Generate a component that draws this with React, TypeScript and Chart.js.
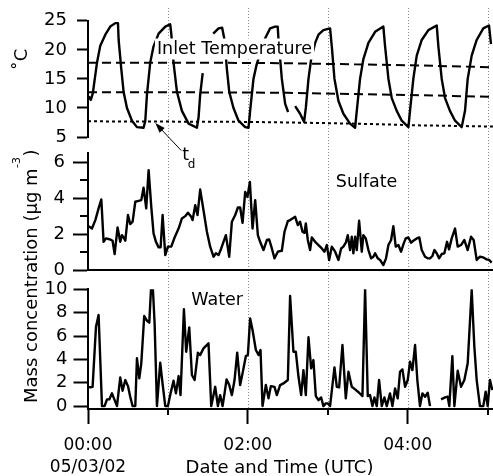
import React, { useEffect, useRef } from 'react';
import { Chart, registerables } from 'chart.js';

Chart.register(...registerables);

const FONT = "'DejaVu Sans', 'Liberation Sans', sans-serif";
const W = 493;
const H = 476;

// ---------- data (time in minutes after 00:00 UTC, 05/03/02) ----------
const tempTime = [0.6, 2.1, 3.6, 6.75, 9.2, 13.0, 16.7, 20.5, 22.5, 23.0, 25.0, 26.7, 29.25, 33.0, 36.75, 41.7, 43.0, 44.25, 46.7, 49.2, 53.0, 58.0, 61.7, 62.5, 64.2, 66.75, 70.5, 75.5, 81.75, 83.0, 84.2, 86.1, 88, 94.0, 98.0, 100.7, 102.5, 104.25, 106.0, 109.2, 113.0, 118.0, 120.5, 121.7, 124.2, 126.6, 133.0, 136.7, 140.5, 142.4, 143.0, 145.5, 148.0, 150.2, 152, 155.5, 159.2, 162.2, 163.5, 165.5, 167.5, 170.5, 173.0, 176.7, 181.7, 183.0, 185.0, 188.0, 191.7, 196.7, 200.5, 201.75, 204.2, 206.7, 210.5, 215.5, 221.7, 223.0, 225.5, 228.0, 231.75, 235.5, 240.5, 241.7, 244.2, 246.75, 250.5, 255.5, 261.75, 263.0, 265.5, 268.0, 271.7, 275.5, 280.5, 283.0, 285.0, 288.0, 291.75, 296.7, 301.0, 302.5];
const tempValue = [12.0, 11.4, 12.5, 17.8, 20.7, 22.6, 24.0, 24.6, 24.6, 21.7, 16.7, 12.8, 10.0, 7.8, 6.7, 6.6, 7.8, 12.3, 17.8, 20.6, 22.8, 24.0, 24.4, 22.8, 17.8, 12.8, 9.5, 7.3, 6.6, 8.4, 12.3, 16.0, null, 22.8, 23.7, 23.8, 21.7, 16.7, 12.8, 10.0, 7.8, 6.7, 6.6, 9.5, 15.0, 17.5, 22.0, 23.7, 24.0, 24.0, 21.7, 15.0, 10.7, 9.3, null, 10.3, 9.0, 7.6, 10.0, 15.0, 18.4, 21.2, 22.6, 23.4, 23.7, 20.6, 15.0, 11.2, 9.0, 7.3, 6.6, 9.5, 15.0, 18.4, 21.2, 23.1, 24.0, 20.6, 15.0, 11.7, 9.5, 7.8, 6.7, 9.5, 15.0, 19.0, 21.7, 23.4, 24.2, 20.6, 15.0, 11.7, 9.5, 7.8, 6.7, 9.5, 15.0, 19.0, 21.7, 23.7, 24.2, 21.0];

const refTime = [0, 60, 120, 150, 200, 250, 304];
const upperDashValue = [17.8, 17.8, 17.75, 17.7, 17.5, 17.3, 17.0];
const middleDashValue = [12.7, 12.7, 12.65, 12.6, 12.4, 12.2, 11.9];
const dewDotValue = [7.7, 7.65, 7.6, 7.5, 7.3, 7.0, 6.8];

const sulfTime = [0.45, 3.0, 5.5, 7.95, 10.0, 11.7, 13.5, 16.7, 18.45, 20.0, 22.2, 24.2, 25.5, 26.7, 28.0, 30.0, 31.7, 33.5, 35.5, 38.0, 40.0, 41.7, 43.7, 45.5, 47.5, 49.2, 51.0, 53.0, 54.5, 56.0, 58.0, 60.0, 62.5, 65.0, 68.0, 70.5, 73.0, 75.0, 77.5, 78.5, 80.5, 82.2, 84.2, 86.7, 89.25, 91.7, 94.2, 96.0, 98.0, 100.0, 101.7, 103.5, 106.0, 108.0, 110.5, 112.5, 114.2, 116.0, 118.0, 119.7, 121.5, 123.5, 125.5, 127.5, 129.2, 131.7, 134.25, 136.0, 138.0, 140.0, 142.5, 145.5, 147.5, 150.0, 151.7, 153.5, 155.5, 157.5, 159.2, 161.0, 162.5, 163.5, 165.0, 166.7, 168.0, 170.5, 173.0, 175.5, 177.5, 179.25, 181.0, 183.0, 185.5, 188.0, 190.0, 191.7, 193.5, 195.0, 196.7, 198.0, 199.2, 200.5, 201.75, 203.5, 205.5, 206.7, 208.5, 210.5, 212.5, 214.2, 215.5, 217.5, 219.2, 221.7, 223.7, 225.5, 227.5, 229.2, 231.0, 233.0, 235.0, 237.0, 238.5, 240.5, 242.5, 244.2, 246.75, 248.7, 250.5, 253.0, 255.0, 256.7, 258.5, 260.0, 261.75, 263.5, 265.5, 267.5, 269.5, 271.0, 273.0, 275.5, 277.5, 280.0, 282.5, 285.0, 287.5, 289.5, 291.75, 294.2, 296.7, 299.25, 301.0, 303.0];
const sulfValue = [2.44, 2.31, 2.78, 3.43, 3.93, 1.57, 1.76, 1.7, 1.63, 0.89, 2.37, 1.57, 1.94, 1.81, 1.63, 3.06, 2.56, 2.69, 3.8, 3.85, 3.89, 4.59, 3.43, 5.56, 3.52, 2.04, 1.57, 1.26, 1.26, 3.06, 0.83, 1.3, 1.3, 1.81, 2.31, 2.87, 3.0, 3.19, 2.96, 2.78, 3.61, 3.06, 4.48, 3.33, 2.13, 1.3, 0.74, 0.93, 0.83, 1.2, 1.57, 1.94, 0.74, 2.69, 3.06, 3.48, 3.48, 2.63, 4.35, 4.07, 4.91, 2.31, 3.89, 1.94, 1.57, 1.11, 1.67, 1.7, 1.2, 0.65, 1.02, 1.07, 2.13, 2.72, 2.78, 2.87, 2.96, 2.5, 2.69, 2.13, 2.07, 2.59, 1.67, 1.11, 1.81, 1.57, 1.39, 1.2, 1.02, 1.39, 0.56, 1.3, 1.02, 0.56, 1.2, 1.3, 1.52, 1.94, 1.11, 1.85, 0.93, 1.85, 1.11, 2.74, 1.02, 1.94, 1.76, 1.11, 0.65, 0.74, 0.93, 0.65, 0.56, 0.28, 0.65, 1.39, 1.67, 2.44, 1.3, 1.39, 1.02, 1.48, 1.76, 1.81, 1.52, 1.63, 1.76, 1.81, 1.11, 0.74, 0.65, 0.65, 0.78, 1.11, 0.93, 0.65, 0.89, 0.93, 1.57, 1.15, 1.76, 2.31, 1.3, 1.39, 1.67, 1.11, 1.85, 1.67, 0.56, 0.74, 0.7, 0.59, 0.56, 0.41];

const waterTime = [0.45, 1.7, 3.45, 6.0, 7.95, 10.5, 12.45, 14.25, 16.0, 18.0, 20.0, 21.75, 24.2, 25.95, 28.0, 30.0, 31.7, 33.45, 35.5, 36.75, 38.5, 40.0, 42.2, 44.25, 46.0, 47.25, 48.75, 50.0, 51.75, 54.2, 55.95, 58.0, 60.0, 61.7, 64.2, 66.0, 68.0, 69.45, 72.0, 73.7, 76.0, 78.0, 80.0, 82.5, 84.2, 86.7, 90.45, 92.5, 95.5, 97.5, 99.2, 101.0, 102.5, 104.0, 106.0, 108.0, 110.0, 112.0, 114.2, 116.0, 118.5, 120.0, 121.7, 123.5, 126.0, 128.0, 129.5, 131.0, 133.5, 135.5, 137.25, 140.0, 141.75, 144.2, 146.7, 150.0, 151.7, 154.2, 156.0, 158.0, 160.0, 161.7, 163.5, 165.5, 167.5, 169.2, 171.0, 173.0, 175.0, 176.7, 178.5, 180.0, 181.7, 185.0, 186.75, 188.5, 191.0, 193.5, 195.5, 198.0, 200.5, 203.5, 206.0, 208.0, 210.0, 211.7, 213.5, 215.0, 216.75, 218.5, 220.5, 222.5, 224.25, 226.7, 228.5, 230.5, 232.5, 234.2, 236.0, 238.0, 240.0, 241.7, 243.5, 245.5, 247.2, 249.2, 251.0, 253.0, 255.0, 256.7, 260, 265.0, 268.0, 270.0, 271.2, 273.5, 275.0, 277.5, 280.0, 282.5, 285.0, 288.0, 290.0, 291.75, 294.2, 296.7, 298.5, 300.0, 301.7, 303.5];
const waterValue = [1.65, 1.6, 1.65, 6.8, 7.8, 0, 0, 0.57, 0.57, 1.09, 0.51, 0, 2.46, 1.31, 2.23, 1.71, 0.8, 0, 0, 4.09, 2.37, 3.66, 7.71, 7.31, 7.14, 9.94, 9.94, 7.09, 0, 3.71, 1.94, 0, 0, 0.94, 2.17, 1.09, 2.57, 0.94, 8.29, 4.65, 6.74, 2.66, 2.23, 4.57, 4.37, 4.94, 5.37, 0, 1.65, 0, 0.94, 0, 1.09, 2.29, 1.8, 0.94, 2.23, 4.57, 1.8, 2.8, 4.28, 4.37, 7.51, 6.51, 4.8, 4.37, 4.8, 0, 1.8, 0.66, 1.71, 1.65, 0.94, 1.8, 1.94, 2.23, 9.43, 4.65, 4.65, 2.51, 0.94, 3.08, 0.94, 5.89, 3.23, 3.94, 0.86, 0.51, 0.74, 0, 0.23, 0.23, 0, 3.31, 1.65, 1.6, 5.23, 0.66, 2.94, 1.65, 1.43, 1.14, 0.86, 10, 0.86, 0.94, 0, 0.74, 0, 2.23, 0, 0.74, 0, 1.09, 0, 1.51, 0.66, 2.94, 3.14, 1.65, 2.23, 3.8, 3.08, 5.23, 2.23, 0, 1.09, 0.8, 1.14, 0, null, 0.57, 0.74, 0.8, 0, 4.28, 0, 3.02, 1.65, 2.23, 3.66, 9.94, 5.08, 2.23, 0, 0, 1.23, 0, 2.23, 1.37];

// ---------- axes ----------
const X_MIN = 0;
const X_MAX = 304;
const xMajorTicks = [0, 120, 240];
const xMajorLabels: (string | string[])[] = [['00:00', '05/03/02'], '02:00', '04:00'];
const xMinorTicks = [60, 180, 300];
const gridTimes = [60, 120, 180, 240, 300];
const tempTicks = [5, 10, 15, 20, 25];
const sulfTicks = [0, 2, 4, 6];
const sulfMinorTicks = [1, 3, 5];
const waterTicks = [0, 2, 4, 6, 8, 10];

// ---------- layout (pixels) ----------
const PLOT_LEFT = 88;
const T_TOP = 17, T_BOTTOM = 137;
const S_TOP = 153.3, S_BOTTOM = 270;
const W_TOP = 289.3, W_BOTTOM = 409;
const LINE_W = 2.4;

// annotation anchors (data coordinates)
const INLET_LABEL = { t: 51.75, v: 19.2 };
const TD_TIP = { t: 50.5, v: 7.4 };
const SULF_LABEL = { t: 186, v: 4.63 };
const WATER_LABEL = { t: 77.5, v: 8.65 };

const pts = (xs: number[], ys: (number | null)[]) => xs.map((x, i) => ({ x, y: ys[i] }));

const lineDs = (data: any, dash: number[] = [], width = LINE_W) => ({
  data,
  borderColor: '#000',
  borderWidth: width,
  borderDash: dash,
  borderJoinStyle: 'round' as const,
  pointRadius: 0,
  tension: 0,
  fill: false,
  spanGaps: false,
});

function yScale(min: number, max: number, ticks: number[], tickLen: number, pad: number) {
  return {
    type: 'linear' as const,
    position: 'left' as const,
    min,
    max,
    afterFit: (s: any) => { s.width = PLOT_LEFT; },
    afterBuildTicks: (s: any) => { s.ticks = ticks.map((v) => ({ value: v })); },
    grid: { drawOnChartArea: false, drawTicks: true, tickLength: tickLen, tickColor: '#000', tickWidth: 2 },
    border: { display: true, color: '#000', width: 2 },
    ticks: { color: '#000', font: { family: FONT, size: 18 }, padding: pad, autoSkip: false },
  };
}

const baseOptions = (padTop: number, padBottom: number) => ({
  responsive: false,
  animation: false as const,
  events: [] as any[],
  layout: { padding: { top: padTop, bottom: padBottom, left: 0, right: 0 } },
  plugins: { legend: { display: false }, tooltip: { enabled: false } },
});

function text(ctx: CanvasRenderingContext2D, s: string, x: number, y: number, size: number, align: CanvasTextAlign = 'left') {
  ctx.font = `${size}px ${FONT}`;
  ctx.textAlign = align;
  ctx.textBaseline = 'alphabetic';
  ctx.fillStyle = '#000';
  ctx.fillText(s, x, y);
}

const tempPlugin = {
  id: 'tempAnno',
  afterDatasetsDraw(chart: any) {
    const { ctx, scales: { x, y } } = chart;
    ctx.save();
    // Inlet Temperature label with opaque background
    const lx = x.getPixelForValue(INLET_LABEL.t);
    const ly = y.getPixelForValue(INLET_LABEL.v);
    ctx.font = `17.5px ${FONT}`;
    const w = ctx.measureText('Inlet Temperature').width;
    ctx.fillStyle = '#fff';
    ctx.fillRect(lx - 2, ly - 16, w + 4, 21);
    text(ctx, 'Inlet Temperature', lx, ly, 17.5);
    // t_d arrow
    const tx = x.getPixelForValue(TD_TIP.t);
    const ty = y.getPixelForValue(TD_TIP.v);
    const sx = tx + 26, sy = ty + 27.5;
    const ang = Math.atan2(ty - sy, tx - sx);
    ctx.strokeStyle = '#000';
    ctx.lineWidth = 1;
    ctx.beginPath();
    ctx.moveTo(sx, sy);
    ctx.lineTo(tx - Math.cos(ang) * 6, ty - Math.sin(ang) * 6);
    ctx.stroke();
    ctx.fillStyle = '#000';
    ctx.beginPath();
    ctx.moveTo(tx, ty);
    ctx.lineTo(tx - Math.cos(ang) * 10 + Math.sin(ang) * 3.5, ty - Math.sin(ang) * 10 - Math.cos(ang) * 3.5);
    ctx.lineTo(tx - Math.cos(ang) * 10 - Math.sin(ang) * 3.5, ty - Math.sin(ang) * 10 + Math.cos(ang) * 3.5);
    ctx.closePath();
    ctx.fill();
    text(ctx, 't', tx + 27, ty + 37, 17.5);
    text(ctx, 'd', tx + 32.5, ty + 45, 12);
    // axis title
    ctx.translate(27, (T_TOP + T_BOTTOM) / 2 - 17.5);
    ctx.rotate(-Math.PI / 2);
    text(ctx, '˚C', 0, 0, 18, 'center');
    ctx.restore();
  },
};

const sulfPlugin = {
  id: 'sulfAnno',
  afterDraw(chart: any) {
    const { ctx, scales: { x, y } } = chart;
    ctx.save();
    ctx.strokeStyle = '#000';
    ctx.lineWidth = 2;
    sulfMinorTicks.forEach((v) => {
      const py = Math.round(y.getPixelForValue(v));
      ctx.beginPath();
      ctx.moveTo(PLOT_LEFT - 8, py);
      ctx.lineTo(PLOT_LEFT, py);
      ctx.stroke();
    });
    text(ctx, 'Sulfate', x.getPixelForValue(SULF_LABEL.t), y.getPixelForValue(SULF_LABEL.v), 17.5);
    ctx.restore();
  },
};

const waterPlugin = {
  id: 'waterAnno',
  beforeDatasetsDraw(chart: any) {
    const { ctx, scales: { x }, chartArea } = chart;
    ctx.save();
    ctx.strokeStyle = '#8a8a8a';
    ctx.lineWidth = 1;
    ctx.setLineDash([1, 2]);
    gridTimes.forEach((t) => {
      const px = Math.round(x.getPixelForValue(t)) + 0.5;
      ctx.beginPath();
      ctx.moveTo(px, 8);
      ctx.lineTo(px, chartArea.bottom);
      ctx.stroke();
    });
    ctx.restore();
  },
  afterDraw(chart: any) {
    const { ctx, scales: { x, y }, chartArea } = chart;
    ctx.save();
    ctx.strokeStyle = '#000';
    ctx.lineWidth = 2;
    xMinorTicks.forEach((t) => {
      const px = Math.round(x.getPixelForValue(t));
      ctx.beginPath();
      ctx.moveTo(px, chartArea.bottom);
      ctx.lineTo(px, chartArea.bottom + 6);
      ctx.stroke();
    });
    text(ctx, 'Water', x.getPixelForValue(WATER_LABEL.t), y.getPixelForValue(WATER_LABEL.v), 17.5);
    text(ctx, 'Date and Time (UTC)', (chartArea.left + chartArea.right) / 2 - 11, 472.5, 18, 'center');
    // rotated mass-concentration title
    ctx.translate(36.5, 403);
    ctx.rotate(-Math.PI / 2);
    const main = 'Mass concentration (µg m';
    ctx.font = `18px ${FONT}`;
    const mw = ctx.measureText(main).width;
    text(ctx, main, 0, 0, 18);
    ctx.font = `11px ${FONT}`;
    const sw = ctx.measureText('-3').width;
    text(ctx, '-3', mw + 0.5, -17, 11);
    text(ctx, ')', mw + sw + 1, 0, 18);
    ctx.restore();
  },
};

export default function App() {
  const tRef = useRef<HTMLCanvasElement>(null);
  const sRef = useRef<HTMLCanvasElement>(null);
  const wRef = useRef<HTMLCanvasElement>(null);

  useEffect(() => {
    Chart.defaults.font.family = FONT;
    const charts: Chart[] = [];

    charts.push(new Chart(wRef.current as HTMLCanvasElement, {
      type: 'line',
      data: { datasets: [lineDs(pts(waterTime, waterValue)) as any] },
      options: {
        ...baseOptions(W_TOP, 0),
        scales: {
          x: {
            type: 'linear', min: X_MIN, max: X_MAX,
            afterFit: (s: any) => { s.height = H - W_BOTTOM; },
            afterBuildTicks: (s: any) => { s.ticks = xMajorTicks.map((v) => ({ value: v })); },
            grid: { drawOnChartArea: false, drawTicks: true, tickLength: 15, tickColor: '#000', tickWidth: 2 },
            border: { display: true, color: '#000', width: 2 },
            ticks: {
              color: '#000', font: { family: FONT, size: 17, lineHeight: 1.31 }, padding: 10,
              maxRotation: 0, autoSkip: false,
              callback: (_v: any, i: number) => xMajorLabels[i],
            },
          },
          y: yScale(-0.25, 10, waterTicks, 14.5, 6),
        },
      } as any,
      plugins: [waterPlugin],
    }));

    charts.push(new Chart(sRef.current as HTMLCanvasElement, {
      type: 'line',
      data: { datasets: [lineDs(pts(sulfTime, sulfValue)) as any] },
      options: {
        ...baseOptions(S_TOP, 0),
        scales: {
          x: {
            type: 'linear', min: X_MIN, max: X_MAX,
            afterFit: (s: any) => { s.height = H - S_BOTTOM; },
            grid: { drawOnChartArea: false, drawTicks: false },
            border: { display: true, color: '#000', width: 2 },
            ticks: { display: false },
          },
          y: yScale(0, 6.5, sulfTicks, 15, 8),
        },
      } as any,
      plugins: [sulfPlugin],
    }));

    charts.push(new Chart(tRef.current as HTMLCanvasElement, {
      type: 'line',
      data: {
        datasets: [
          lineDs(pts(refTime, upperDashValue), [9, 5], 2) as any,
          lineDs(pts(refTime, middleDashValue), [9, 5], 2) as any,
          lineDs(pts(refTime, dewDotValue), [3, 3], 2) as any,
          lineDs(pts(tempTime, tempValue)) as any,
        ],
      },
      options: {
        ...baseOptions(T_TOP, H - T_BOTTOM),
        scales: {
          x: { type: 'linear', min: X_MIN, max: X_MAX, display: false },
          y: yScale(5, 25, tempTicks, 11, 10),
        },
      } as any,
      plugins: [tempPlugin],
    }));

    return () => charts.forEach((c) => c.destroy());
  }, []);

  const cs: React.CSSProperties = { position: 'absolute', left: 0, top: 0 };
  return (
    <div style={{ position: 'fixed', left: 0, top: 0, width: W, height: H, background: '#fff' }}>
      <canvas ref={wRef} width={W} height={H} style={cs} />
      <canvas ref={sRef} width={W} height={H} style={cs} />
      <canvas ref={tRef} width={W} height={H} style={cs} />
    </div>
  );
}
